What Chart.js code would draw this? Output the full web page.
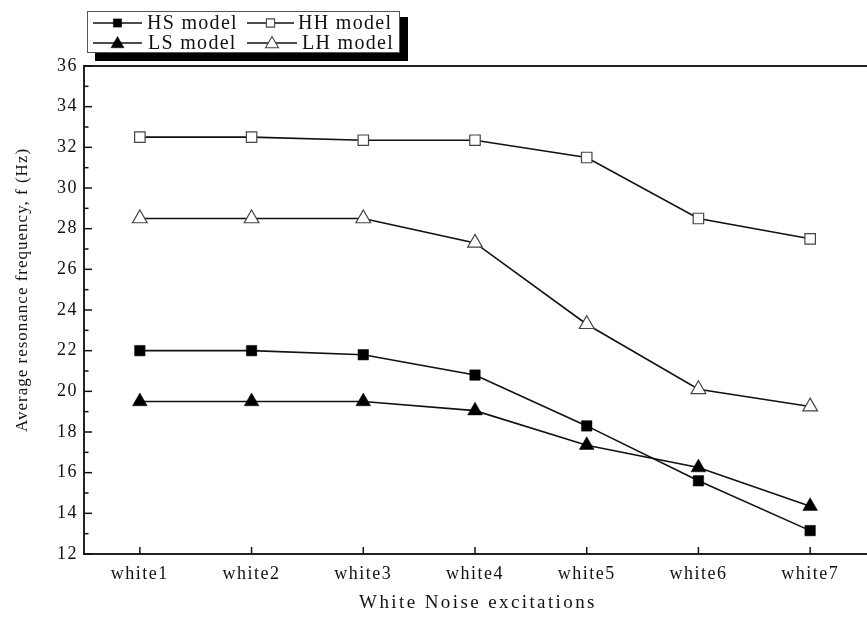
<!DOCTYPE html>
<html>
<head>
<meta charset="utf-8">
<script src="https://cdn.jsdelivr.net/npm/chart.js@4/dist/chart.umd.min.js"></script>
<style>
  html, body { margin: 0; padding: 0; background: #fff; overflow: hidden; }
  #wrap { width: 867px; height: 617px; position: relative; }
</style>
</head>
<body>
<div id="wrap"><canvas id="c" width="867" height="617"></canvas></div>
<script>
const categories = ['white1', 'white2', 'white3', 'white4', 'white5', 'white6', 'white7'];
const hsModel = [22.0, 22.0, 21.8, 20.8, 18.3, 15.6, 13.15];
const hhModel = [32.5, 32.5, 32.35, 32.35, 31.5, 28.5, 27.5];
const lsModel = [19.5, 19.5, 19.5, 19.05, 17.35, 16.25, 14.35];
const lhModel = [28.5, 28.5, 28.5, 27.3, 23.3, 20.1, 19.25];
const seriesNames = ['HS model', 'HH model', 'LS model', 'LH model'];
const yMin = 12, yMax = 36, yStep = 2;
const xTitle = 'White Noise excitations';
const yTitle = 'Average resonance frequency, f (Hz)';

const SERIF = '"Liberation Serif", "Times New Roman", serif';

function mkDs(label, data, style, filled) {
  return {
    label: label,
    data: data,
    borderColor: '#111',
    borderWidth: 1.6,
    pointStyle: style,
    pointRadius: style === 'triangle' ? 8.5 : 7.4,
    pointHoverRadius: style === 'triangle' ? 8.5 : 7.4,
    pointBackgroundColor: filled ? '#000' : '#fff',
    pointBorderColor: filled ? '#000' : '#444',
    pointBorderWidth: filled ? 0.5 : 1.2,
    fill: false,
    tension: 0
  };
}

function drawMarker(ctx, style, filled, x, y, r) {
  ctx.save();
  ctx.beginPath();
  if (style === 'rect') {
    const s = r * Math.SQRT1_2;
    ctx.rect(x - s, y - s, 2 * s, 2 * s);
  } else {
    ctx.moveTo(x, y - r);
    ctx.lineTo(x + r * Math.sin(2 * Math.PI / 3), y - r * Math.cos(2 * Math.PI / 3));
    ctx.lineTo(x + r * Math.sin(4 * Math.PI / 3), y - r * Math.cos(4 * Math.PI / 3));
    ctx.closePath();
  }
  ctx.fillStyle = filled ? '#000' : '#fff';
  ctx.fill();
  ctx.lineWidth = filled ? 0.5 : 1.1;
  ctx.strokeStyle = filled ? '#000' : '#444';
  ctx.stroke();
  ctx.restore();
}

const decor = {
  id: 'decor',
  beforeDraw(chart) {
    chart.ctx.letterSpacing = '1.5px';
  },
  afterDraw(chart) {
    const ctx = chart.ctx;
    const ca = chart.chartArea;
    const ys = chart.scales.y, xs = chart.scales.x;
    ctx.save();
    ctx.letterSpacing = '0px';
    // top frame line
    ctx.strokeStyle = '#222';
    ctx.lineWidth = 2;
    ctx.beginPath();
    ctx.moveTo(ca.left - 1, ca.top);
    ctx.lineTo(ca.right + 4, ca.top);
    ctx.stroke();
    // inward ticks on y
    ctx.lineWidth = 1.5;
    ctx.strokeStyle = '#111';
    for (let v = yMin; v <= yMax; v += 1) {
      const py = ys.getPixelForValue(v);
      const len = (v % yStep === 0) ? 8 : 4.5;
      ctx.beginPath();
      ctx.moveTo(ca.left, py);
      ctx.lineTo(ca.left + len, py);
      ctx.stroke();
    }
    // inward ticks on x
    categories.forEach((c, i) => {
      const px = xs.getPixelForValue(i);
      ctx.beginPath();
      ctx.moveTo(px, ca.bottom);
      ctx.lineTo(px, ca.bottom - 7);
      ctx.stroke();
    });
    // axis titles
    ctx.fillStyle = '#111';
    ctx.font = '19px ' + SERIF;
    ctx.letterSpacing = '2.4px';
    ctx.textAlign = 'center';
    ctx.textBaseline = 'middle';
    ctx.fillText(xTitle, 478, 603);
    ctx.save();
    ctx.translate(23, 290);
    ctx.rotate(-Math.PI / 2);
    ctx.font = '17px ' + SERIF;
    ctx.letterSpacing = '1px';
    ctx.fillText(yTitle, 0, 0);
    ctx.restore();

    // legend with shadow
    ctx.letterSpacing = '0px';
    ctx.fillStyle = '#000';
    ctx.fillRect(95, 17, 313, 44);
    ctx.fillStyle = '#fff';
    ctx.fillRect(87, 11, 313, 42);
    ctx.strokeStyle = '#555';
    ctx.lineWidth = 1;
    ctx.strokeRect(87.5, 11.5, 312, 41);
    const ds = chart.data.datasets;
    const slots = [
      { x0: 93, x1: 142, tx: 147, y: 23 },
      { x0: 247, x1: 294, tx: 298, y: 23 },
      { x0: 93, x1: 142, tx: 148, y: 43 },
      { x0: 247, x1: 297, tx: 302, y: 43 }
    ];
    ds.forEach((d, i) => {
      const s = slots[i];
      ctx.strokeStyle = '#111';
      ctx.lineWidth = 1.6;
      ctx.beginPath();
      ctx.moveTo(s.x0, s.y);
      ctx.lineTo(s.x1, s.y);
      ctx.stroke();
      const filled = d.pointBackgroundColor === '#000';
      const r = d.pointStyle === 'triangle' ? 7.5 : 5.8;
      drawMarker(ctx, d.pointStyle, filled, (s.x0 + s.x1) / 2, s.y + (d.pointStyle === 'triangle' ? 1 : 0), r);
      ctx.fillStyle = '#111';
      ctx.font = '20px ' + SERIF;
      ctx.letterSpacing = '1.3px';
      ctx.textAlign = 'left';
      ctx.textBaseline = 'middle';
      ctx.fillText(d.label, s.tx, s.y + 1);
      ctx.letterSpacing = '0px';
    });
    ctx.restore();
  }
};

new Chart(document.getElementById('c'), {
  type: 'line',
  data: {
    labels: categories,
    datasets: [
      mkDs(seriesNames[0], hsModel, 'rect', true),
      mkDs(seriesNames[1], hhModel, 'rect', false),
      mkDs(seriesNames[2], lsModel, 'triangle', true),
      mkDs(seriesNames[3], lhModel, 'triangle', false)
    ]
  },
  options: {
    responsive: false,
    animation: false,
    devicePixelRatio: 1,
    layout: { autoPadding: false, padding: { top: 66, right: 1, left: 0, bottom: 0 } },
    plugins: { legend: { display: false }, tooltip: { enabled: false } },
    scales: {
      x: {
        offset: true,
        grid: { display: false, drawTicks: false },
        border: { display: true, color: '#222', width: 2 },
        ticks: { color: '#111', font: { family: SERIF, size: 18 }, padding: 9, maxRotation: 0 },
        afterFit(s) { s.height = 63; s.paddingLeft = 0; s.paddingRight = 0; }
      },
      y: {
        min: yMin, max: yMax,
        grid: { display: false, drawTicks: false },
        border: { display: true, color: '#222', width: 2 },
        ticks: { stepSize: yStep, color: '#111', font: { family: SERIF, size: 18 }, padding: 6 },
        afterFit(s) { s.width = 84; s.paddingTop = 0; s.paddingBottom = 0; }
      }
    }
  },
  plugins: [decor]
});
</script>
</body>
</html>
